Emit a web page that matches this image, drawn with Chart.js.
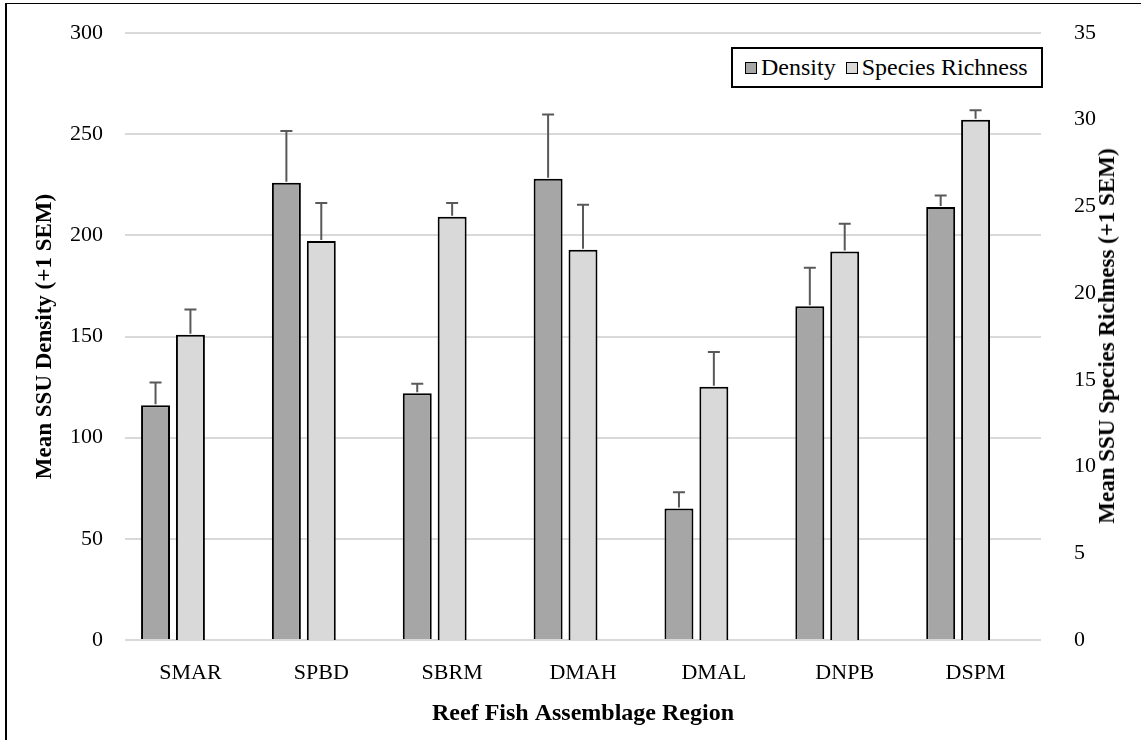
<!DOCTYPE html>
<html>
<head>
<meta charset="utf-8">
<script src="https://cdn.jsdelivr.net/npm/chart.js@4.4.1/dist/chart.umd.min.js"></script>
<style>
    html, body { margin: 0; padding: 0; background: #fff; overflow: hidden; }
    #wrap { position: relative; width: 1141px; height: 740px; }
    #frame {
        position: absolute; left: 5px; top: 3px; width: 1200px; height: 800px;
        border-left: 2px solid #000; border-top: 1px solid #000;
    }
    #legend {
        position: absolute; left: 731px; top: 47px; width: 308px; height: 37px;
        border: 2px solid #000; background: #fff;
        display: flex; align-items: center;
        font-family: 'Liberation Serif', 'Times New Roman', serif; font-size: 24px; color: #000;
    }
    .item { display: flex; align-items: center; margin-left: 12px; }
    .item + .item { margin-left: 10px; }
    .box { width: 10px; height: 10px; border: 1.5px solid #000; margin-right: 4px; }
    #rtitle {
        position: absolute; left: 1107px; top: 336px;
        transform: translate(-50%, -50%) rotate(-90deg);
        white-space: nowrap;
        font-family: 'Liberation Serif', 'Times New Roman', serif; font-size: 23px; font-weight: bold; color: #000;
    }
</style>
</head>
<body>
<div id="wrap">
    <canvas id="chart" width="1141" height="740"></canvas>
    <div id="frame"></div>
    <div id="legend"></div>
    <div id="rtitle">Mean SSU Species Richness (+1 SEM)</div>
</div>
<script>
const categories = ['SMAR', 'SPBD', 'SBRM', 'DMAH', 'DMAL', 'DNPB', 'DSPM'];
const density = [116, 226, 122, 228, 65, 165, 214];
const densitySem = [11.3, 25.6, 4.6, 31.7, 8, 19, 5.7];
const richness = [17.6, 23.0, 24.4, 22.5, 14.6, 22.4, 30.0];
const richnessSem = [1.45, 2.2, 0.8, 2.6, 2.0, 1.6, 0.55];
const leftTicks = [0, 50, 100, 150, 200, 250, 300];
const rightTicks = [0, 5, 10, 15, 20, 25, 30, 35];

const colors = {
    density: '#a6a6a6',
    richness: '#d9d9d9',
    grid: '#d9d9d9',
    err: '#595959',
};
const serif = "'Liberation Serif', 'Times New Roman', serif";

// draws the +1 SEM whiskers on top of each bar
const errorBars = {
    id: 'errorBars',
    afterDatasetsDraw(chart) {
        const ctx = chart.ctx;
        chart.data.datasets.forEach((ds, i) => {
            if (!ds.sem) return;
            const meta = chart.getDatasetMeta(i);
            const scale = chart.scales[ds.yAxisID];
            meta.data.forEach((bar, j) => {
                const top = scale.getPixelForValue(ds.data[j] + ds.sem[j]);
                ctx.save();
                ctx.strokeStyle = colors.err;
                ctx.lineWidth = 2;
                ctx.beginPath();
                ctx.moveTo(bar.x, bar.y - 1);
                ctx.lineTo(bar.x, top);
                ctx.moveTo(bar.x - 6, top);
                ctx.lineTo(bar.x + 6, top);
                ctx.stroke();
                ctx.restore();
            });
        });
    }
};

const barStyle = {
    borderColor: '#000',
    borderWidth: 2,
    borderSkipped: 'bottom',
    categoryPercentage: 0.8,
    barPercentage: 0.83,
};

// keep the plot area exactly where the padding puts it
function fixY(width) {
    return s => {
        s.width = width;
        s.paddingTop = 0;
        s.paddingBottom = 0;
    };
}

const chart = new Chart(document.getElementById('chart'), {
    type: 'bar',
    data: {
        labels: categories,
        datasets: [{
            label: 'Density',
            data: density,
            sem: densitySem,
            yAxisID: 'y',
            backgroundColor: colors.density,
            ...barStyle,
        }, {
            label: 'Species Richness',
            data: richness,
            sem: richnessSem,
            yAxisID: 'y1',
            backgroundColor: colors.richness,
            ...barStyle,
        }, {
            // empty slot: the pair sits left of the category centre like in the original
            label: '',
            data: categories.map(() => null),
            yAxisID: 'y',
            spacer: true,
            ...barStyle,
        }]
    },
    options: {
        responsive: false,
        animation: false,
        layout: { padding: { top: 33, left: 6, right: 0, bottom: 0 } },
        plugins: {
            legend: { display: false },
            tooltip: { enabled: false }
        },
        scales: {
            x: {
                grid: { display: false },
                border: { display: false },
                ticks: { color: '#000', font: { family: serif, size: 22 }, padding: 12 },
                title: {
                    display: true,
                    text: 'Reef Fish Assemblage Region',
                    color: '#000',
                    font: { family: serif, size: 24, weight: 'bold' },
                    padding: { top: 4, bottom: 12 }
                },
                afterFit: s => { s.height = 100; }
            },
            y: {
                position: 'left',
                min: 0, max: 300,
                afterBuildTicks: s => { s.ticks = leftTicks.map(v => ({ value: v })); },
                grid: { color: colors.grid, lineWidth: 2, drawTicks: false },
                border: { display: false },
                ticks: { color: '#000', font: { family: serif, size: 22 }, padding: 22 },
                title: {
                    display: true,
                    text: 'Mean SSU Density (+1 SEM)',
                    color: '#000',
                    font: { family: serif, size: 23, weight: 'bold' },
                    padding: { top: 25 }
                },
                afterFit: fixY(119)
            },
            y1: {
                position: 'right',
                min: 0, max: 35,
                afterBuildTicks: s => { s.ticks = rightTicks.map(v => ({ value: v })); },
                grid: { display: false, drawTicks: false },
                border: { display: false },
                ticks: { color: '#000', font: { family: serif, size: 22 }, padding: 33 },
                afterFit: fixY(100)
            }
        }
    },
    plugins: [errorBars]
});

// legend in the same look as the bars
const legend = document.getElementById('legend');
chart.data.datasets.filter(ds => !ds.spacer).forEach(ds => {
    const item = document.createElement('div');
    item.className = 'item';
    const box = document.createElement('span');
    box.className = 'box';
    box.style.background = ds.backgroundColor;
    const txt = document.createElement('span');
    txt.textContent = ds.label;
    item.appendChild(box);
    item.appendChild(txt);
    legend.appendChild(item);
});
</script>
</body>
</html>
